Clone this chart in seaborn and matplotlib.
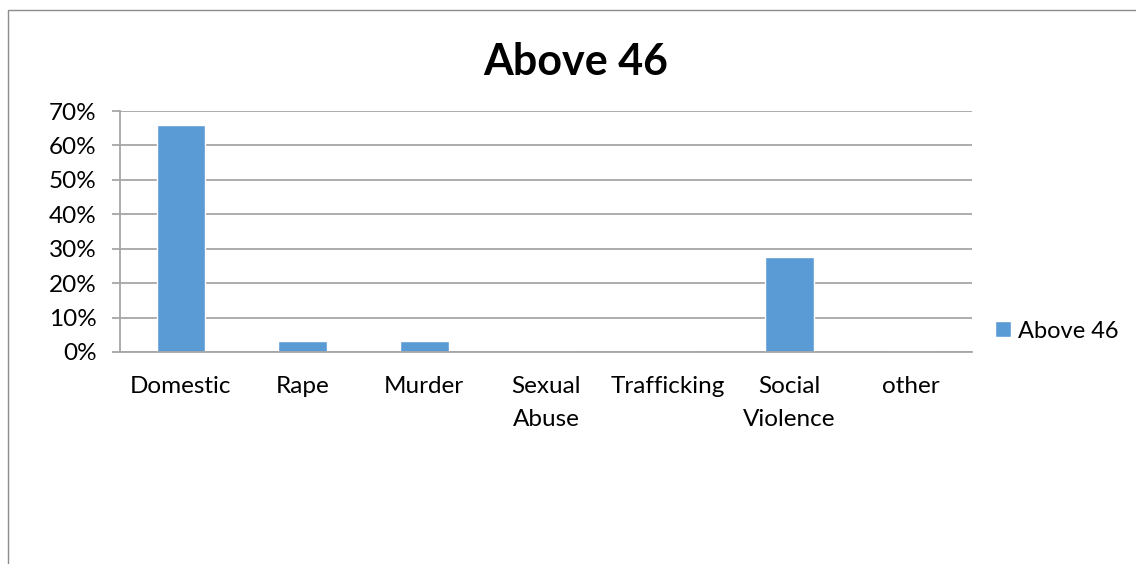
import matplotlib
matplotlib.use("Agg")
import matplotlib.pyplot as plt
import seaborn as sns
import numpy as np
from matplotlib.patches import Rectangle
from matplotlib.ticker import PercentFormatter, FixedLocator

categories = ["Domestic", "Rape", "Murder", "Sexual\nAbuse", "Trafficking", "Social\nViolence", "other"]
values = [0.66, 0.033, 0.033, 0.0, 0.0, 0.275, 0.0]
series_name = "Above 46"
title = "Above 46"
yticks = [0, 0.1, 0.2, 0.3, 0.4, 0.5, 0.6, 0.7]

sns.set_style("white")
plt.rcParams['font.family'] = ['Lato', 'DejaVu Sans']
plt.rcParams['text.color'] = 'black'

W, H = 1136, 564
fig = plt.figure(figsize=(W / 100, H / 100), dpi=100)
fig.patch.set_facecolor("white")

# outer chart frame
fig.patches.append(Rectangle((7.5 / W, -0.1), 1.2, 1.1 - 10.5 / H, transform=fig.transFigure,
                             fill=False, edgecolor="#8c8c8c", lw=1.0, zorder=0))

left, right, top, bottom = 120, 972, 111, 352
ax = fig.add_axes([left / W, 1 - bottom / H, (right - left) / W, (bottom - top) / H])

sns.barplot(x=categories, y=values, color="#5B9BD5", width=0.4, ax=ax, label=series_name,
            saturation=1)

ax.set_ylim(0, 0.7)
ax.set_xlim(-0.5, len(categories) - 0.5)
ax.set_yticks(yticks)
ax.yaxis.set_major_formatter(PercentFormatter(1.0, decimals=0))
ax.set_xlabel("")
ax.set_ylabel("")

grid_c = "#a6a6a6"
ax.grid(axis="y", color=grid_c, lw=1.3, zorder=0)
ax.set_axisbelow(True)
for s in ["top", "right"]:
    ax.spines[s].set_visible(False)
for s in ["left", "bottom"]:
    ax.spines[s].set_color(grid_c)
    ax.spines[s].set_linewidth(1.3)

ax.xaxis.set_minor_locator(FixedLocator(np.arange(-0.5, len(categories), 1.0)))
ax.tick_params(axis="x", which="major", length=0, pad=17, labelsize=17.5, labelcolor="#000000")
ax.tick_params(axis="x", which="minor", length=6, width=1.3, color=grid_c, direction="out")
ax.tick_params(axis="y", which="major", length=6, width=1.3, color=grid_c, pad=11,
               labelsize=17.5, labelcolor="#000000", left=True)
for lbl in ax.get_xticklabels():
    lbl.set_linespacing(1.72)

fig.text(576 / W, 1 - 75 / H, title, ha="center", va="baseline", fontsize=31, fontweight="bold",
         color="black")

ax.legend(loc="center left", bbox_to_anchor=(986 / W, 1 - 331 / H), bbox_transform=fig.transFigure,
          frameon=False, fontsize=17, handlelength=0.65, handleheight=0.65, handletextpad=0.3,
          borderaxespad=0)

fig.savefig("out.png", dpi=100, facecolor="white")
